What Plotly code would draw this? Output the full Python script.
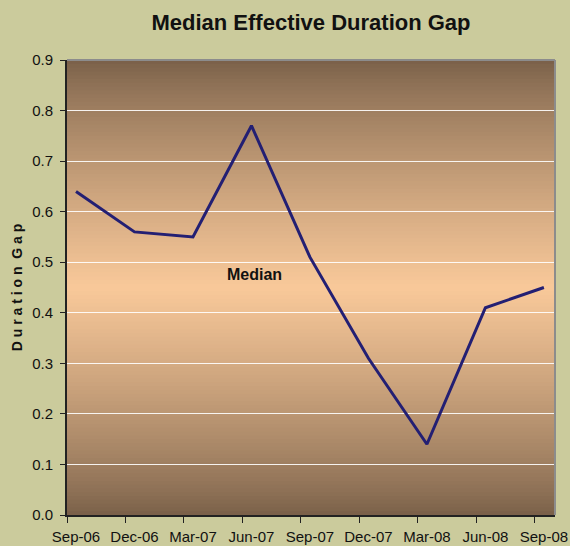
import plotly.graph_objects as go

quarters = ['Sep-06', 'Dec-06', 'Mar-07', 'Jun-07', 'Sep-07',
            'Dec-07', 'Mar-08', 'Jun-08', 'Sep-08']
median_gap = [0.64, 0.56, 0.55, 0.77, 0.51, 0.31, 0.14, 0.41, 0.45]
y_ticks = [0.0, 0.1, 0.2, 0.3, 0.4, 0.5, 0.6, 0.7, 0.8, 0.9]

EDGE = (120, 95, 72)
MID = (249, 201, 154)
PAPER = '#cbcb9c'


def blend(t):
    return 'rgb(%d,%d,%d)' % tuple(round(e + (m - e) * t) for e, m in zip(EDGE, MID))


# vertical gradient: dark at top and bottom, light in the middle
n_bands = 120
shapes = []
for i in range(n_bands):
    y0 = i / n_bands
    mid = (i + 0.5) / n_bands
    t = (1 - abs(mid - 0.5) * 2) ** 0.8
    shapes.append(dict(type='rect', xref='x domain', yref='y domain',
                       x0=0, x1=1, y0=y0, y1=(i + 1) / n_bands + 0.002,
                       fillcolor=blend(t), line=dict(width=0), layer='below'))

# grey frame on top and right
shapes.append(dict(type='line', xref='x domain', yref='y domain', x0=0, x1=1,
                   y0=1, y1=1, line=dict(color='#8c8c8c', width=2)))
shapes.append(dict(type='line', xref='x domain', yref='y domain', x0=1, x1=1,
                   y0=0, y1=1, line=dict(color='#8c8c8c', width=2)))

fig = go.Figure()
fig.add_trace(go.Scatter(
    x=list(range(len(quarters))),
    y=median_gap,
    mode='lines',
    line=dict(color='#231f73', width=3),
    name='Median',
    showlegend=False,
    hoverinfo='skip',
))

fig.add_annotation(x=3.06, y=0.475, text='<b>Median</b>', showarrow=False,
                   font=dict(family='Liberation Sans, Arial', size=16, color='#111111'))

fig.update_layout(
    width=570, height=546,
    margin=dict(l=67, r=15, t=60, b=31, autoexpand=False),
    paper_bgcolor=PAPER,
    plot_bgcolor=blend(0),
    shapes=shapes,
    title=dict(text='<b>Median Effective Duration Gap</b>', x=0.5, xanchor='center',
               xref='paper', y=1 - 22 / 546, yanchor='middle',
               font=dict(family='Liberation Sans, Arial', size=22, color='#111111')),
    font=dict(family='Liberation Sans, Arial', size=15, color='#111111'),
    xaxis=dict(
        range=[-0.154, 8.19],
        tickvals=list(range(len(quarters))),
        ticktext=quarters,
        ticks='',
        ticklabelstandoff=7,
        showgrid=False,
        zeroline=False,
        automargin=False,
        showline=True, linecolor='#222222', linewidth=2,
        tickfont=dict(size=15),
        minor=dict(tick0=-0.154, dtick=1, ticks='outside', ticklen=6,
                   tickcolor='#222222', showgrid=False),
    ),
    yaxis=dict(
        range=[0, 0.9],
        tickvals=y_ticks,
        ticktext=['%.1f' % v for v in y_ticks],
        ticks='outside', ticklen=5, tickcolor='#222222',
        ticklabelstandoff=4,
        showgrid=True, gridcolor='rgba(255,255,255,0.9)', gridwidth=1,
        zeroline=False,
        automargin=False,
        showline=True, linecolor='#222222', linewidth=2,
        tickfont=dict(size=15),
        title=dict(text='<b>D u r a t i o n  G a p</b>', standoff=6,
                   font=dict(size=14)),
    ),
)

# drop the browser's default 8px body margin so the figure sits at the corner
fig.write_html('out.html', config={'displayModeBar': False}, post_script=(
    "document.body.style.margin='0';"
    "document.body.style.background='%s';" % PAPER))
